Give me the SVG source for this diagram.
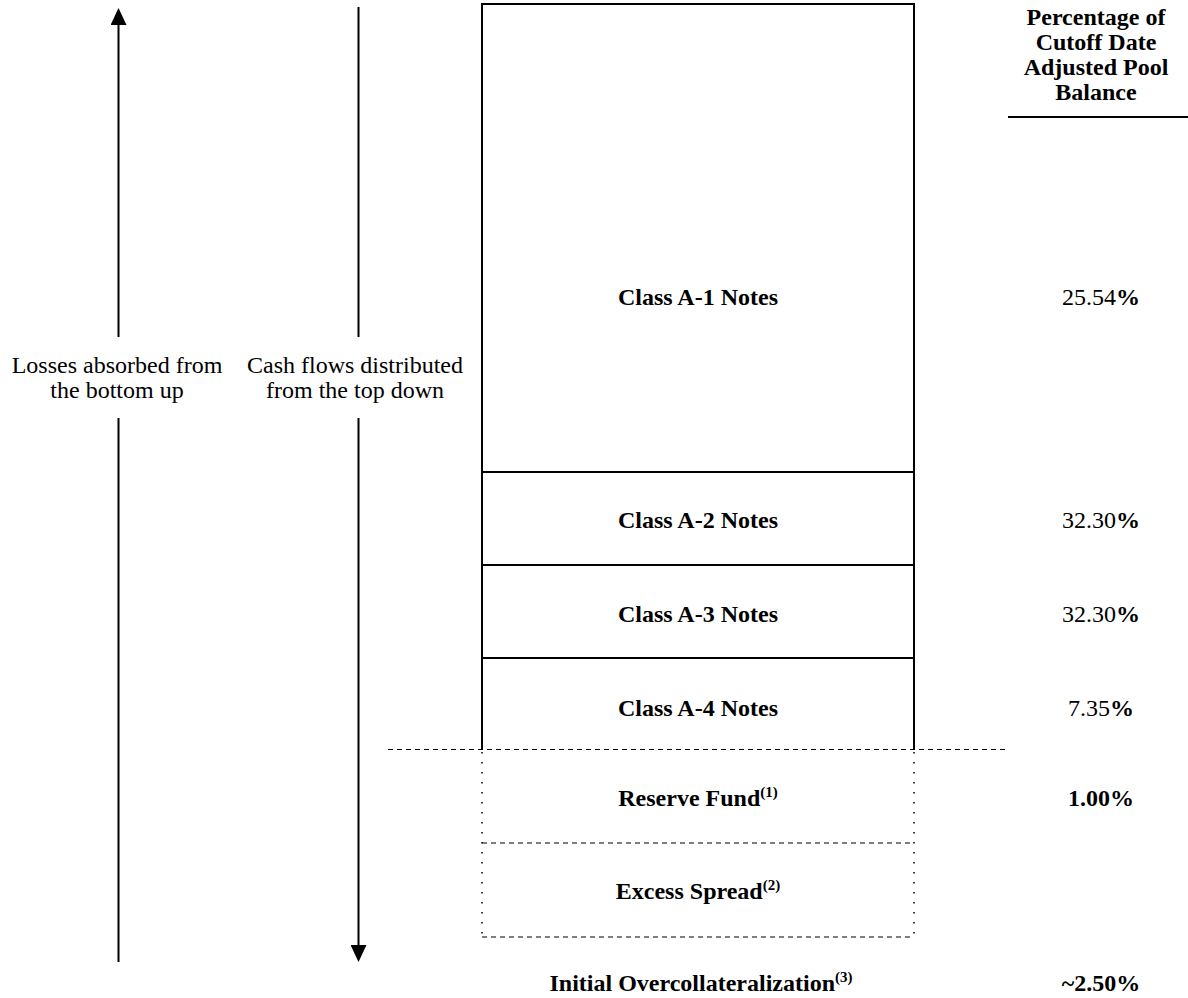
<svg xmlns="http://www.w3.org/2000/svg" width="1188" height="998" viewBox="0 0 1188 998">
<style>
text{font-family:"Liberation Serif","Times New Roman",serif;font-size:24px;fill:#000}
.b{font-weight:bold}
.c{text-anchor:middle}
.sup{font-size:15px;font-weight:bold}
.solid{stroke:#000;stroke-width:2;fill:none}
.dash{stroke:#000;stroke-width:1.2;stroke-dasharray:5 4;fill:none}
.dot{stroke:#000;stroke-width:1.5;stroke-dasharray:1.5 8.5;fill:none}
</style>
<defs>
<marker id="ah" markerWidth="17" markerHeight="16" refX="1" refY="8" orient="auto" markerUnits="userSpaceOnUse" viewBox="0 0 17 16">
<path d="M0,0 L17,8 L0,16 Z" fill="#000"/>
</marker>
</defs>
<g id="connectors">
<line class="solid" x1="118.5" y1="337" x2="118.5" y2="24" marker-end="url(#ah)"/>
<line class="solid" x1="118.5" y1="418" x2="118.5" y2="962"/>
<line class="solid" x1="358.5" y1="7" x2="358.5" y2="337"/>
<line class="solid" x1="358.5" y1="418" x2="358.5" y2="946" marker-end="url(#ah)"/>
</g>
<g id="label-losses">
<text class="c" x="117" y="373">Losses absorbed from</text>
<text class="c" x="117" y="398">the bottom up</text>
</g>
<g id="label-cash">
<text class="c" x="355" y="373">Cash flows distributed</text>
<text class="c" x="355" y="398">from the top down</text>
</g>
<g id="header">
<text class="b c" x="1096" y="25">Percentage of</text>
<text class="b c" x="1096" y="50">Cutoff Date</text>
<text class="b c" x="1096" y="75">Adjusted Pool</text>
<text class="b c" x="1096" y="100">Balance</text>
<line class="solid" x1="1008" y1="117" x2="1188" y2="117"/>
</g>
<g id="class-a1">
<path class="solid" d="M482,749 L482,4 L914,4 L914,749"/>
<text class="b c" x="698" y="305">Class A-1 Notes</text>
<text class="c" x="1101" y="305">25.54<tspan class="b">%</tspan></text>
</g>
<g id="class-a2">
<line class="solid" x1="482" y1="472" x2="914" y2="472"/>
<text class="b c" x="698" y="528">Class A-2 Notes</text>
<text class="c" x="1101" y="528">32.30<tspan class="b">%</tspan></text>
</g>
<g id="class-a3">
<line class="solid" x1="482" y1="565" x2="914" y2="565"/>
<text class="b c" x="698" y="622">Class A-3 Notes</text>
<text class="c" x="1101" y="622">32.30<tspan class="b">%</tspan></text>
</g>
<g id="class-a4">
<line class="solid" x1="482" y1="658" x2="914" y2="658"/>
<text class="b c" x="698" y="716">Class A-4 Notes</text>
<text class="c" x="1101" y="716">7.35<tspan class="b">%</tspan></text>
</g>
<g id="reserve-fund">
<line class="dash" x1="388" y1="749.5" x2="1005" y2="749.5"/>
<line class="dot" x1="482" y1="752" x2="482" y2="937"/>
<line class="dot" x1="914" y1="752" x2="914" y2="937"/>
<text class="b c" x="698" y="806">Reserve Fund<tspan class="sup" dy="-9">(1)</tspan></text>
<text class="b c" x="1101" y="806">1.00%</text>
</g>
<g id="excess-spread">
<line class="dash" x1="482" y1="843" x2="914" y2="843"/>
<line class="dash" x1="482" y1="937" x2="914" y2="937"/>
<text class="b c" x="698" y="899">Excess Spread<tspan class="sup" dy="-9">(2)</tspan></text>
</g>
<g id="overcollateralization">
<text class="b c" x="701" y="991">Initial Overcollateralization<tspan class="sup" dy="-9">(3)</tspan></text>
<text class="b c" x="1101" y="991">~2.50%</text>
</g>
</svg>
